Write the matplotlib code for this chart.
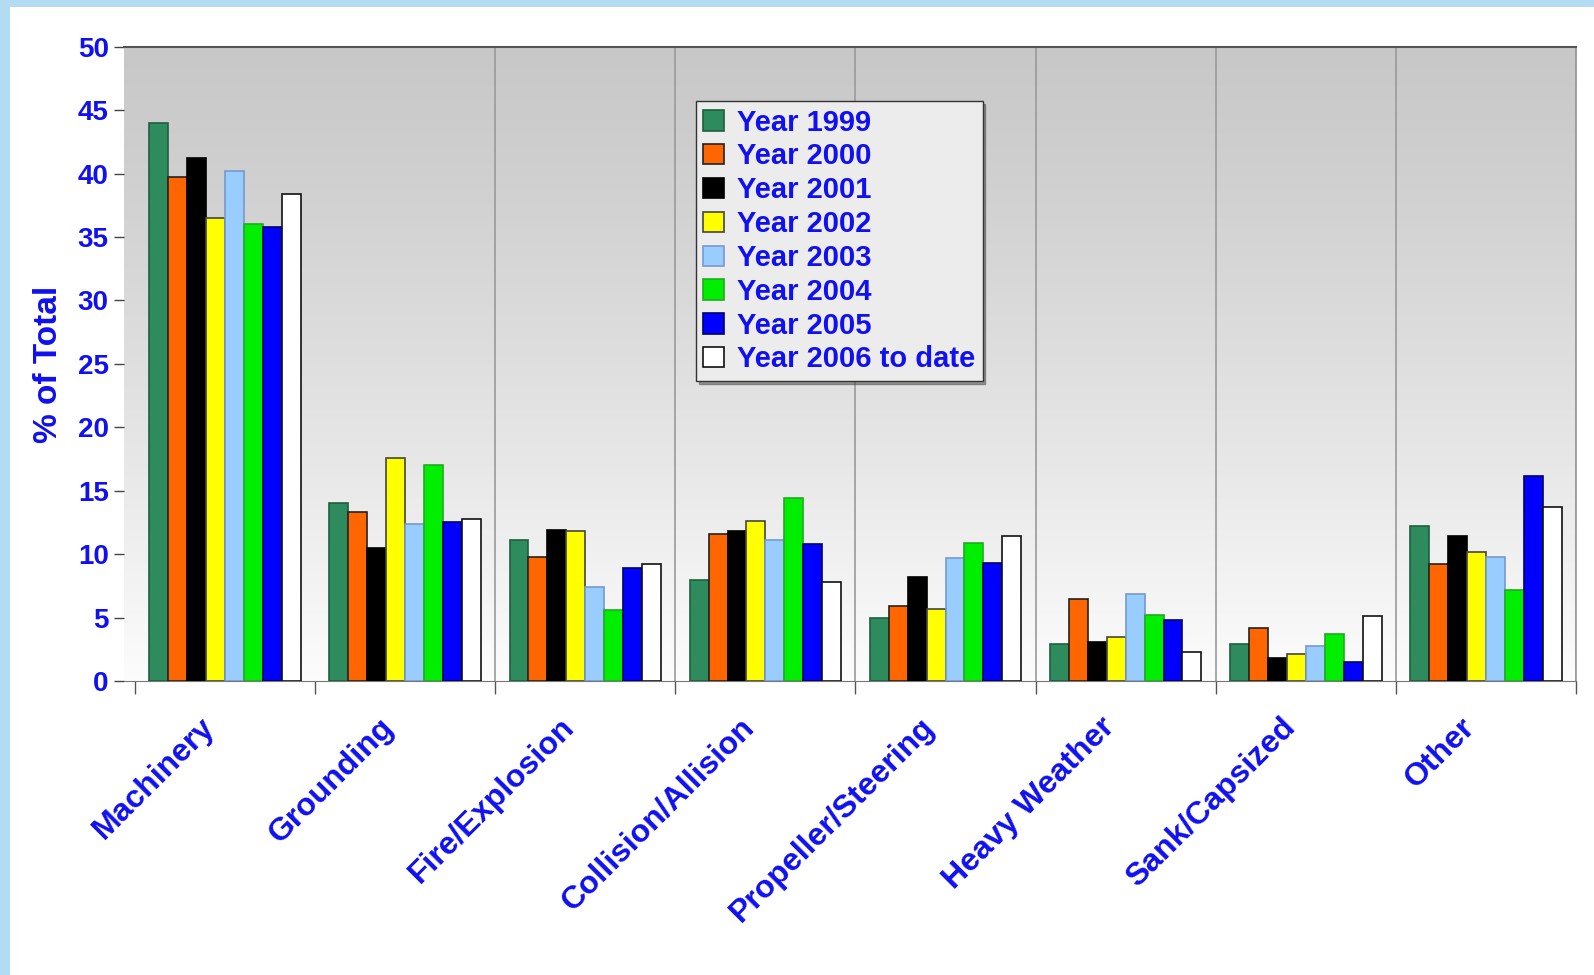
import numpy as np
import matplotlib
matplotlib.use("Agg")
import matplotlib.pyplot as plt
from matplotlib.patches import Rectangle

categories = ["Machinery", "Grounding", "Fire/Explosion", "Collision/Allision",
              "Propeller/Steering", "Heavy Weather", "Sank/Capsized", "Other"]
years = ["Year 1999", "Year 2000", "Year 2001", "Year 2002",
         "Year 2003", "Year 2004", "Year 2005", "Year 2006 to date"]

# % of total per category, one list per year
y1999 = [44.0, 14.0, 11.1, 8.0, 5.0, 2.9, 2.9, 12.2]
y2000 = [39.7, 13.3, 9.8, 11.6, 5.9, 6.5, 4.2, 9.2]
y2001 = [41.2, 10.5, 11.9, 11.8, 8.2, 3.1, 1.8, 11.4]
y2002 = [36.5, 17.6, 11.8, 12.6, 5.7, 3.5, 2.1, 10.2]
y2003 = [40.2, 12.4, 7.4, 11.1, 9.7, 6.9, 2.8, 9.8]
y2004 = [36.0, 17.0, 5.6, 14.4, 10.9, 5.2, 3.7, 7.2]
y2005 = [35.8, 12.5, 8.9, 10.8, 9.3, 4.8, 1.5, 16.2]
y2006 = [38.4, 12.8, 9.2, 7.8, 11.4, 2.3, 5.1, 13.7]
series = [y1999, y2000, y2001, y2002, y2003, y2004, y2005, y2006]

colors = ["#2e8b5e", "#ff6600", "#000000", "#ffff00",
          "#99ccff", "#00ee00", "#0000ff", "#ffffff"]
edges = ["#1f5f3f", "#222222", "#000000", "#444444",
         "#7799cc", "#22aa22", "#000066", "#111111"]
text_blue = "#1010f0"

plt.rcParams["font.family"] = ["Liberation Sans", "DejaVu Sans"]
plt.rcParams["font.weight"] = "bold"

fig = plt.figure(figsize=(15.94, 9.75), dpi=100)
fig.patch.set_facecolor("white")
# light blue frame at the top and left
fig.patches.append(Rectangle((0, 0.993), 1, 0.007, transform=fig.transFigure,
                             facecolor="#b3dcf2", edgecolor="none", zorder=0))
fig.patches.append(Rectangle((0, 0), 0.006, 1, transform=fig.transFigure,
                             facecolor="#b3dcf2", edgecolor="none", zorder=0))

ax = fig.add_axes([0.0778, 0.3015, 0.911, 0.6505])

# gray (top) to white (bottom) gradient background
grad = np.linspace(0, 1, 256)[:, None]
shade = 0.785 + 0.205 * grad ** 1.2
ax.imshow(np.dstack([shade, shade, shade]), extent=[0, 1, 0, 1],
          transform=ax.transAxes, aspect="auto", zorder=0,
          interpolation="bicubic", origin="upper")

x = np.arange(len(categories))
n = len(series)
width = 0.105
for i, (vals, c, ec, lab) in enumerate(zip(series, colors, edges, years)):
    offs = (i - (n - 1) / 2) * width
    ax.bar(x + offs, vals, width, color=c, edgecolor=ec, linewidth=1.2,
           label=lab, zorder=3)

# separators between categories
bounds = np.arange(len(categories) + 1) - 0.5
ax.vlines(bounds[2:], 0, 50, color="#9a9a9a", linewidth=1.2, zorder=1)

ax.set_xlim(-0.56, 7.5)
ax.set_ylim(0, 50)
ax.set_yticks(np.arange(0, 51, 5))

# category labels, slanted, ending a little left of the group centre
ax.set_xticks(bounds)
ax.set_xticklabels([])
ax.tick_params(axis="x", length=9, width=1, color="#555555", direction="out")
for xi, name in zip(x, categories):
    ax.annotate(name, xy=(xi, 0), xycoords=ax.get_xaxis_transform(),
                xytext=(-11, -30), textcoords="offset points",
                rotation=45, rotation_mode="anchor", ha="right", va="center",
                fontsize=23, color=text_blue, fontweight="bold",
                annotation_clip=False)

ax.tick_params(axis="y", length=7, width=1, color="#444444", pad=4,
               labelsize=20, labelcolor=text_blue)
for t in ax.get_yticklabels():
    t.set_fontweight("bold")

ax.set_ylabel("% of Total", fontsize=24, color=text_blue, fontweight="bold")
ax.yaxis.set_label_coords(-0.041, 0.5)

ax.spines["left"].set_visible(False)
ax.spines["top"].set_color("#555555")
ax.spines["top"].set_linewidth(1.5)
ax.spines["bottom"].set_color("#777777")
ax.spines["right"].set_color("#9a9a9a")
ax.spines["right"].set_linewidth(1.2)

leg = ax.legend(loc="upper left", bbox_to_anchor=(0.394, 0.914), ncol=1,
                fontsize=21, frameon=True, shadow=True, fancybox=False,
                handlelength=0.7, handleheight=0.7, handletextpad=0.45,
                labelspacing=0.2, borderpad=0.25, borderaxespad=0)
leg.get_frame().set_facecolor("#ececec")
leg.get_frame().set_edgecolor("#333333")
leg.get_frame().set_alpha(1)
for t in leg.get_texts():
    t.set_color(text_blue)
    t.set_fontweight("bold")

fig.savefig("out.png", dpi=100)
